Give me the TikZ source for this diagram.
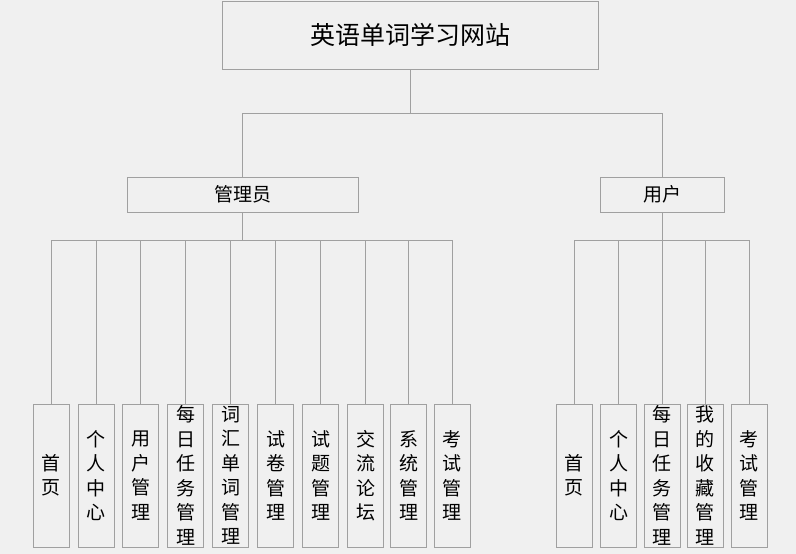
\documentclass[tikz,border=0pt]{standalone}
\usepackage{fontspec}
\setmainfont{Noto Sans CJK SC}
\usepackage{tikz}
\definecolor{bggray}{HTML}{F0F0F0}
\definecolor{linegray}{HTML}{A0A0A0}
\tikzset{
	treebox/.style = {rectangle, align=center, inner sep=0pt, text centered,
		draw=linegray, fill=bggray, line width=0.8pt, text=black},
	box_site/.style = {treebox, minimum width=376pt, minimum height=68pt,
		font=\fontsize{25}{28}\selectfont},% racine
	box_role/.style = {treebox, minimum height=35pt,
		font=\fontsize{19}{23}\selectfont},% role
	box_leaf/.style = {treebox, minimum width=36pt, minimum height=143pt,
		label={[leaf_text]center:#1}},% feuille
	leaf_text/.style = {align=center, inner sep=0pt, text=black,
		font=\fontsize{19}{24.5}\selectfont},
	tree_line/.style = {draw=linegray, line width=0.8pt}
}

\begin{document}
\begin{tikzpicture}[x=1pt,y=-1pt]
\fill[bggray] (0,0) rectangle (796,554);
\useasboundingbox (0,0) rectangle (796,554);

\node [box_site] (site) at (410,35) {英语单词学习网站};
\node [box_role, minimum width=231pt] (admin) at (242.5,194.5) {管理员};
\node [box_role, minimum width=124pt] (user) at (662,194.5) {用户};

\node [box_leaf={首\\页}] (a1) at (51,475.5) {};
\node [box_leaf={个\\人\\中\\心}] (a2) at (96,475.5) {};
\node [box_leaf={用\\户\\管\\理}] (a3) at (140.5,475.5) {};
\node [box_leaf={每\\日\\任\\务\\管\\理}] (a4) at (185.5,475.5) {};
\node [box_leaf={词\\汇\\单\\词\\管\\理}] (a5) at (230.5,475.5) {};
\node [box_leaf={试\\卷\\管\\理}] (a6) at (275.5,475.5) {};
\node [box_leaf={试\\题\\管\\理}] (a7) at (320.5,475.5) {};
\node [box_leaf={交\\流\\论\\坛}] (a8) at (365.5,475.5) {};
\node [box_leaf={系\\统\\管\\理}] (a9) at (408.5,475.5) {};
\node [box_leaf={考\\试\\管\\理}] (a10) at (452,475.5) {};

\node [box_leaf={首\\页}] (u1) at (574,475.5) {};
\node [box_leaf={个\\人\\中\\心}] (u2) at (618.5,475.5) {};
\node [box_leaf={每\\日\\任\\务\\管\\理}] (u3) at (662,475.5) {};
\node [box_leaf={我\\的\\收\\藏\\管\\理}] (u4) at (705,475.5) {};
\node [box_leaf={考\\试\\管\\理}] (u5) at (749,475.5) {};

\coordinate (siteBus) at (410,113);
\coordinate (adminBus) at (242.5,240);
\coordinate (userBus) at (662,240);

\draw [tree_line] (site.south) -- (siteBus);
\draw [tree_line] (siteBus) -| (admin.north);
\draw [tree_line] (siteBus) -| (user.north);
\draw [tree_line] (admin.south) -- (adminBus);
\draw [tree_line] (user.south) -- (userBus);
\foreach \i in {1,...,10}
	\draw [tree_line] (adminBus) -| (a\i.north);
\foreach \i in {1,...,5}
	\draw [tree_line] (userBus) -| (u\i.north);
\end{tikzpicture}
\end{document}
